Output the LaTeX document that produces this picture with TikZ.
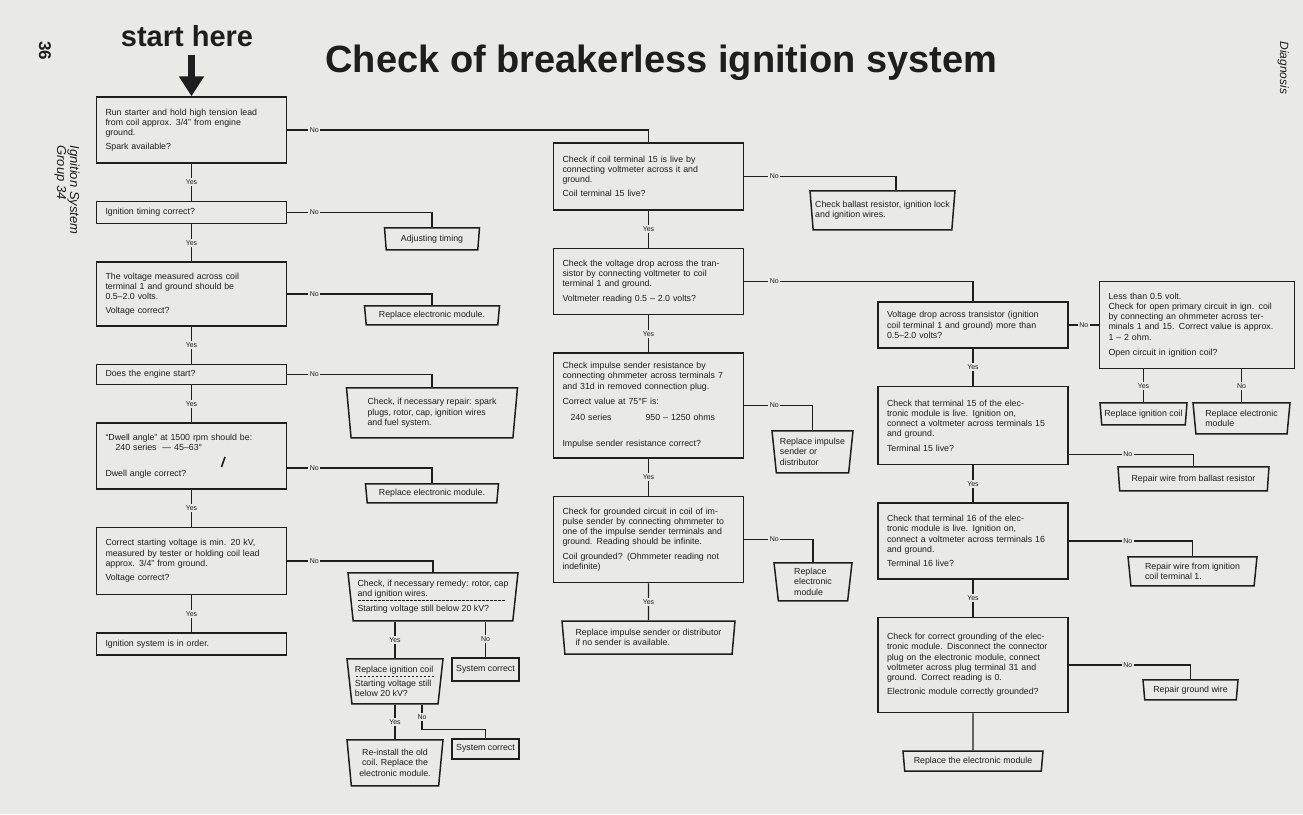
\documentclass[tikz,border=0pt]{standalone}
\usepackage{fontspec}
\setmainfont{Liberation Sans}
\usepackage{tikz}
\usetikzlibrary{shapes.geometric, arrows.meta, positioning}

\definecolor{paper}{RGB}{233,233,231}
\definecolor{ink}{RGB}{30,30,30}

\newcommand{\boxfont}{\fontsize{8.8}{10.2}\selectfont}
\newcommand{\lblfont}{\fontsize{7}{8}\selectfont}
\newcommand{\dashrule}[1]{\makebox[#1][l]{\leaders\hbox to 4pt{\hss\rule[0.3ex]{2.2pt}{0.7pt}\hss}\hfill}}

\begin{document}
\begin{tikzpicture}[
    x=1pt, y=-1pt,
    color=ink,
    chk/.style={
        draw,
        line width=1.5pt,
        align=left,
        font=\boxfont,
        minimum width=190pt,
        text width=172pt,
        inner xsep=9pt,
        inner ysep=3pt
    },
    fix/.style={
        draw,
        line width=1.5pt,
        trapezium,
        shape border rotate=180,
        trapezium angle=82,
        trapezium stretches body,
        align=left,
        font=\boxfont,
        inner sep=2pt
    },
    res/.style={draw, line width=1.5pt, align=left, font=\boxfont, inner sep=2pt},
    lbl/.style={fill=paper, inner sep=1.5pt, font=\lblfont},
    link/.style={line width=1.2pt},
    node distance=37pt and 30pt
]
\useasboundingbox (0,0) rectangle (1303,814);
\fill[paper] (0,0) rectangle (1303,814);

% headings
\node[font=\bfseries\fontsize{29}{30}\selectfont, anchor=base, outer sep=5pt] (start) at (187,46) {start here};
\node[font=\bfseries\fontsize{38}{40}\selectfont, anchor=base west] (title) at (322,72) {Check of breakerless ignition system};
\node[font=\bfseries\fontsize{17}{18}\selectfont, rotate=-90, anchor=base west] (page) at (39,38) {36};
\node[font=\itshape\fontsize{13}{14}\selectfont, rotate=-90, anchor=base west] (grp) at (57,142) {Group 34};
\node[font=\itshape\fontsize{13}{14}\selectfont, rotate=-90, anchor=base west] (sys) at (70,142) {Ignition System};
\node[font=\itshape\fontsize{12}{13}\selectfont, rotate=-90, anchor=base west] (diag) at (1280,38) {Diagnosis};

% left column
\node[chk, minimum height=66pt] (b1) at (191.5,130)
{Run starter and hold high tension lead\\from coil approx. 3/4" from engine\\ground.\\[3pt]Spark available?};
\node[chk, minimum height=22pt, below=of b1] (b2) {Ignition timing correct?};
\node[chk, minimum height=64pt, below=of b2] (b3)
{The voltage measured across coil\\terminal 1 and ground should be\\0.5–2.0 volts.\\[3pt]Voltage correct?};
\node[chk, minimum height=20pt, below=of b3] (b4) {Does the engine start?};
\node[chk, minimum height=66pt, below=of b4] (b5)
{“Dwell angle” at 1500 rpm should be:\\\hspace*{10pt}240 series \ — 45–63°\\[16pt]Dwell angle correct?};
\node[chk, minimum height=67pt, below=of b5] (b6)
{Correct starting voltage is min. 20 kV,\\measured by tester or holding coil lead\\approx. 3/4" from ground.\\[4pt]Voltage correct?};
\node[chk, minimum height=22pt, below=of b6] (b7) {Ignition system is in order.};
\draw[line width=1.6pt] (225,457) -- (221.5,467);

% remedies of the left column
\node[fix, anchor=north, minimum width=95pt, minimum height=22pt] (t2) at (432,227) {Adjusting timing};
\node[fix, anchor=north, minimum width=135pt, minimum height=19pt] (t3) at (432,305) {Replace electronic module.};
\node[fix, anchor=north, minimum width=171pt, minimum height=50pt] (t4) at (432,387)
{Check, if necessary repair: spark\\plugs, rotor, cap, ignition wires\\and fuel system.};
\node[fix, anchor=north, minimum width=133pt, minimum height=19pt] (t5) at (432,483) {Replace electronic module.};
\node[fix, anchor=north, minimum width=170pt, minimum height=48pt] (t6) at (433,572)
{Check, if necessary remedy: rotor, cap\\and ignition wires.\\[-5pt]\dashrule{150pt}\\[-1pt]Starting voltage still below 20 kV?};
\node[res, anchor=north, minimum width=67pt, minimum height=23pt] (sc1) at (485.5,657) {System correct};
\node[fix, anchor=north, minimum width=96pt, minimum height=45pt] (t7) at (395,658)
{Replace ignition coil\\[-4pt]\dashrule{80pt}\\[-2pt]Starting voltage still\\below 20 kV?};
\node[res, anchor=north, minimum width=67pt, minimum height=20pt] (sc2) at (485.5,738) {System correct};
\node[fix, anchor=north, minimum width=96pt, minimum height=46pt, align=center] (t8) at (395,739)
{Re-install the old\\coil. Replace the\\electronic module.};

% middle column
\node[chk, minimum height=67pt] (m1) at (648.5,176.5)
{Check if coil terminal 15 is live by\\connecting voltmeter across it and\\ground.\\[4pt]Coil terminal 15 live?};
\node[chk, minimum height=66pt, below=of m1] (m2)
{Check the voltage drop across the tran-\\sistor by connecting voltmeter to coil\\terminal 1 and ground.\\[4pt]Voltmeter reading 0.5 – 2.0 volts?};
\node[chk, minimum height=105pt, below=of m2] (m3)
{Check impulse sender resistance by\\connecting ohmmeter across terminals 7\\and 31d in removed connection plug.\\[5pt]Correct value at 75°F is:\\[6pt]\hspace*{8pt}240 series\hspace{34pt}950 – 1250 ohms\\[16pt]Impulse sender resistance correct?};
\node[chk, minimum height=86pt, below=of m3] (m4)
{Check for grounded circuit in coil of im-\\pulse sender by connecting ohmmeter to\\one of the impulse sender terminals and\\ground. Reading should be infinite.\\[4pt]Coil grounded? (Ohmmeter reading not\\indefinite)};
\node[fix, minimum width=173pt, minimum height=33pt, below=of m4] (m5)
{Replace impulse sender or distributor\\if no sender is available.};

\node[fix, anchor=north, minimum width=145pt, minimum height=39pt] (mc1) at (882.5,190)
{Check ballast resistor, ignition lock\\and ignition wires.};
\node[fix, anchor=north, minimum width=81pt, minimum height=42pt] (mr1) at (812.5,430)
{Replace impulse\\sender or\\distributor};
\node[fix, anchor=north, minimum width=78pt, minimum height=38pt] (mr2) at (813,562)
{Replace\\electronic\\module};

% right column
\node[chk, minimum height=46pt] (r1) at (973,325)
{Voltage drop across transistor (ignition\\coil terminal 1 and ground) more than\\0.5–2.0 volts?};
\node[chk, minimum height=78pt, below=of r1] (r2)
{Check that terminal 15 of the elec-\\tronic module is live. Ignition on,\\connect a voltmeter across terminals 15\\and ground.\\[4pt]Terminal 15 live?};
\node[chk, minimum height=76pt, below=of r2] (r3)
{Check that terminal 16 of the elec-\\tronic module is live. Ignition on,\\connect a voltmeter across terminals 16\\and ground.\\[4pt]Terminal 16 live?};
\node[chk, minimum height=95pt, below=of r3] (r4)
{Check for correct grounding of the elec-\\tronic module. Disconnect the connector\\plug on the electronic module, connect\\voltmeter across plug terminal 31 and\\ground. Correct reading is 0.\\[4pt]Electronic module correctly grounded?};
\node[fix, minimum width=140pt, minimum height=20pt, below=of r4] (r5) {Replace the electronic module};

\node[chk, minimum width=195pt, text width=177pt, minimum height=87pt, right=of r1] (r1b)
{Less than 0.5 volt.\\Check for open primary circuit in ign. coil\\by connecting an ohmmeter across ter-\\minals 1 and 15. Correct value is approx.\\1 – 2 ohm.\\[5pt]Open circuit in ignition coil?};
\node[fix, anchor=north, minimum width=87pt, minimum height=22pt] (ric) at (1143.5,402) {Replace ignition coil};
\node[fix, anchor=north, minimum width=97pt, minimum height=31pt] (rem) at (1241.5,402) {Replace electronic\\module};
\node[fix, anchor=north, minimum width=151pt, minimum height=24pt] (rw1) at (1193.5,466) {Repair wire from ballast resistor};
\node[fix, anchor=north, minimum width=129pt, minimum height=29pt] (rw2) at (1192.5,556) {Repair wire from ignition\\coil terminal 1.};
\node[fix, anchor=north, minimum width=95pt, minimum height=20pt] (rgw) at (1190.5,679) {Repair ground wire};

% start arrow
\draw[line width=7pt, -{Triangle[length=20pt,width=24pt]}] (start.south -| b1.north) -- (b1.north);

% yes branches
\foreach \a/\b in {b1/b2,b2/b3,b3/b4,b4/b5,b5/b6,b6/b7,m1/m2,m2/m3,m3/m4,m4/m5,r1/r2,r2/r3,r3/r4}
    \draw[link] (\a) -- node[lbl]{Yes} (\b);
\draw[link] (r4) -- (r5);

% no branches
\draw[link] (b1.east) -- ++(27,0) node[lbl]{No} -| (m1.north);
\draw[link] (b2.east) -- ++(27,0) node[lbl]{No} -| (t2.north);
\draw[link] (b3.east) -- ++(27,0) node[lbl]{No} -| (t3.north);
\draw[link] (b4.east) -- ++(27,0) node[lbl]{No} -| (t4.north);
\draw[link] ([yshift=-12pt]b5.east) -- ++(27,0) node[lbl]{No} -| (t5.north);
\draw[link] (b6.east) -- ++(27,0) node[lbl]{No} -| (t6.north);

\draw[link] (t7.north |- t6.south) -- node[lbl]{Yes} (t7.north);
\draw[link] (sc1.north |- t6.south) -- node[lbl]{No} (sc1.north);
\draw[link] (t7.south) -- node[lbl]{Yes} (t8.north);
\draw[link] ([xshift=27pt]t7.south) -- node[lbl]{No} ++(0,25) -| (sc2.north);

\draw[link] (m1.east) -- ++(30,0) node[lbl]{No} -| ([xshift=13.5pt]mc1.north);
\draw[link] (m2.east) -- ++(30,0) node[lbl]{No} -| (r1.north);
\draw[link] (m3.east) -- ++(30,0) node[lbl]{No} -| (mr1.north);
\draw[link] (m4.east) -- ++(30,0) node[lbl]{No} -| (mr2.north);

\draw[link] (r1) -- node[lbl]{No} (r1b);
\draw[link] (ric.north |- r1b.south) -- node[lbl]{Yes} (ric.north);
\draw[link] (rem.north |- r1b.south) -- node[lbl]{No} (rem.north);
\draw[link] ([yshift=-29pt]r2.east) -- ++(59,0) node[lbl]{No} -| (rw1.north);
\draw[link] (r3.east) -- ++(59,0) node[lbl]{No} -| (rw2.north);
\draw[link] (r4.east) -- ++(59,0) node[lbl]{No} -| (rgw.north);

\end{tikzpicture}
\end{document}
